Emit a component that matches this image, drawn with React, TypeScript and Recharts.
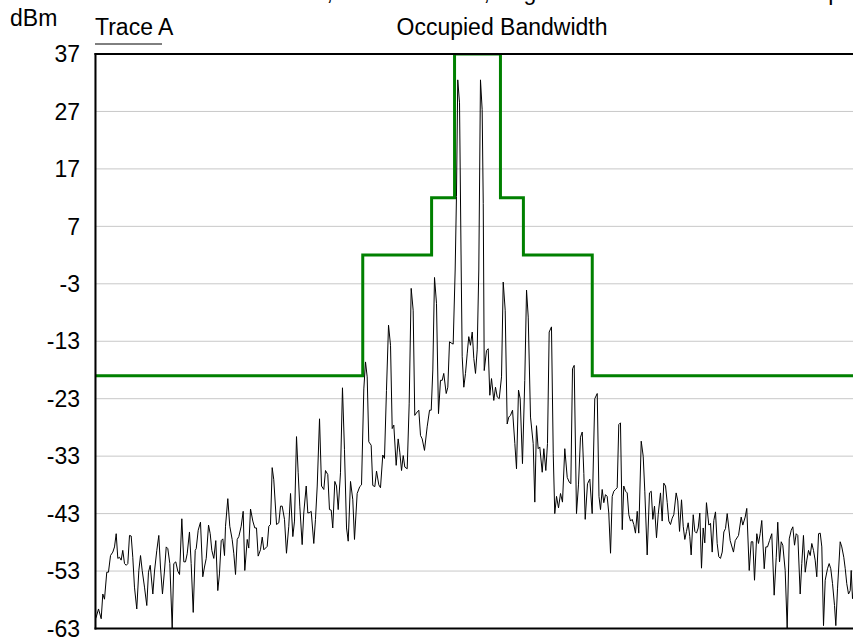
import React from 'react';
import { LineChart, Line, XAxis, YAxis, CartesianGrid } from 'recharts';

// Frequency offset (MHz) from centre, level (dBm)
const levelTicks = [-63, -53, -43, -33, -23, -13, -3, 7, 17, 27, 37];
const freqTicks = [-5, -4, -3, -2, -1, 0, 1, 2, 3, 4, 5];

// Spectrum emission mask (step after each edge)
const maskEdges = [-5, -1.5, -0.6, -0.3, 0.3, 0.6, 1.5, 5];
const maskLevels = [-19, 2, 12, 37, 12, 2, -19, -19];

// Trace A: [offset MHz, dBm]
const lowerFarSkirt: [number, number][] = [
  [-5.0, -61.5], [-4.984, -61], [-4.954, -59.6], [-4.919, -61.3], [-4.898, -57], [-4.876, -57.9],
  [-4.846, -53.2], [-4.824, -53.2], [-4.797, -50.3], [-4.767, -49.7], [-4.745, -48.8], [-4.723, -46.5],
  [-4.702, -50.8], [-4.68, -50.6], [-4.658, -51.1], [-4.637, -49.4], [-4.614, -51.7], [-4.592, -52],
  [-4.571, -51.7], [-4.549, -46.8], [-4.527, -46.9], [-4.506, -50.6], [-4.484, -55.8], [-4.454, -59.6],
  [-4.427, -52.9], [-4.405, -50.3], [-4.383, -52.9], [-4.353, -55.8], [-4.323, -59], [-4.301, -53.2],
  [-4.278, -52], [-4.244, -57], [-4.222, -53], [-4.192, -49.4], [-4.166, -46.8], [-4.144, -52.3],
  [-4.118, -57], [-4.092, -53], [-4.069, -48.8], [-4.048, -49.1], [-4.022, -51.7], [-3.991, -63],
  [-3.97, -51.7], [-3.944, -51.4], [-3.918, -53], [-3.895, -53.6], [-3.865, -43.9], [-3.839, -51.4],
  [-3.817, -51.4], [-3.795, -50], [-3.765, -46.2], [-3.743, -51.7], [-3.716, -60.2], [-3.69, -49.4],
  [-3.677, -49.1], [-3.651, -45.9], [-3.621, -44.5], [-3.591, -54], [-3.569, -52.3], [-3.546, -50.8],
  [-3.516, -45], [-3.494, -46.5], [-3.473, -49.4], [-3.447, -50.8], [-3.421, -47.7], [-3.395, -56.4],
  [-3.373, -53.5], [-3.35, -47.7], [-3.329, -47.4], [-3.307, -50.3],
];

const lowerShoulder: [number, number][] = [
  [-3.294, -45.2], [-3.264, -40.4], [-3.238, -45.2], [-3.207, -47.5], [-3.186, -49.9], [-3.163, -53.6],
  [-3.141, -47.5], [-3.12, -47], [-3.089, -45.2], [-3.063, -42.6], [-3.042, -52.9], [-3.01, -47.5],
  [-2.99, -49], [-2.967, -42.2], [-2.937, -44.3], [-2.911, -45.5], [-2.889, -45.5], [-2.867, -50.4],
  [-2.837, -49.3], [-2.814, -47.1], [-2.793, -49.3], [-2.771, -49], [-2.749, -48.7], [-2.728, -45.2],
  [-2.706, -44.9], [-2.684, -35], [-2.663, -37.1], [-2.627, -44.9], [-2.597, -44.6], [-2.575, -41.7],
  [-2.553, -41.7], [-2.523, -44], [-2.497, -49.9], [-2.467, -45.2], [-2.444, -39.5], [-2.414, -47],
  [-2.392, -44.3], [-2.366, -29.6], [-2.344, -35.9], [-2.323, -41.7], [-2.292, -48.4], [-2.271, -42.9],
  [-2.239, -38.2], [-2.218, -42.9], [-2.192, -42.8], [-2.174, -42.6], [-2.14, -48.2], [-2.118, -44],
  [-2.095, -38.2], [-2.065, -26.5], [-2.039, -38.2], [-2.009, -38.8], [-1.987, -35.5], [-1.957, -36.2],
  [-1.935, -42.3], [-1.912, -42.4], [-1.892, -45.5], [-1.865, -37.4], [-1.843, -38.2], [-1.821, -42.3],
  [-1.791, -35.9], [-1.765, -21.1], [-1.739, -31.8], [-1.712, -45.5], [-1.69, -47.8], [-1.66, -37.4],
  [-1.63, -40.6], [-1.608, -47.5],
];

const lowerCore: [number, number][] = [
  [-1.573, -39.5], [-1.539, -38.3], [-1.516, -38], [-1.486, -21.3], [-1.464, -16.6], [-1.442, -19.2],
  [-1.421, -30.5], [-1.39, -31.1], [-1.369, -38.1], [-1.342, -38.3], [-1.32, -35.6], [-1.29, -38],
  [-1.268, -38.5], [-1.238, -32.8], [-1.216, -33.4], [-1.19, -21.6], [-1.163, -10.2], [-1.137, -13.7],
  [-1.115, -28.2], [-1.094, -27.6], [-1.063, -34.6], [-1.037, -30], [-1.016, -32.3], [-0.993, -35.5],
  [-0.971, -32.9], [-0.95, -34.9], [-0.919, -35.2], [-0.893, -23.9], [-0.867, -3.8], [-0.841, -7.6],
  [-0.82, -25.9], [-0.788, -25.3], [-0.767, -25], [-0.745, -29.4], [-0.723, -30], [-0.693, -32],
  [-0.658, -27.9], [-0.627, -25], [-0.605, -25], [-0.584, -18], [-0.562, -1.9], [-0.536, -6.4],
  [-0.51, -25.6], [-0.484, -19.8], [-0.461, -19.8], [-0.441, -18.6], [-0.409, -22.1], [-0.388, -21],
  [-0.366, -13.1], [-0.344, -13.3], [-0.318, -13.5], [-0.292, -0.6], [-0.275, 12.2], [-0.258, 32.5],
  [-0.235, 28.5], [-0.213, -0.6], [-0.2, -15.7], [-0.179, -21], [-0.157, -18.6], [-0.135, -15.2],
  [-0.114, -12.2], [-0.092, -13.7], [-0.069, -11.4], [-0.048, -16], [-0.026, -18.6], [-0.004, -14.5],
];

const upperCore: [number, number][] = [
  [0.017, -0.6], [0.039, 32.5], [0.061, 27.3], [0.075, 11], [0.088, -18.1], [0.118, -14.6],
  [0.14, -14.3], [0.161, -22.4], [0.183, -19.5], [0.213, -23.3], [0.235, -21], [0.258, -22.7],
  [0.284, -23], [0.314, -19.2], [0.336, -2.7], [0.362, -7.6], [0.388, -27.4], [0.409, -26.2],
  [0.431, -25.9], [0.458, -25], [0.488, -30.8], [0.51, -35.2], [0.536, -21.5], [0.558, -23],
  [0.588, -34.3], [0.618, -19.8], [0.641, -4.1], [0.663, -8.8], [0.693, -26.2], [0.728, -30.8],
  [0.749, -41], [0.771, -27.7], [0.793, -31.7], [0.814, -31.4], [0.846, -35.8], [0.867, -31.7],
  [0.893, -35.5], [0.915, -30.8], [0.937, -11.4], [0.967, -10.5], [0.99, -32.6], [1.01, -43],
  [1.033, -40], [1.059, -42], [1.085, -39.5], [1.111, -41], [1.141, -31.7], [1.173, -36.7],
  [1.199, -37.5], [1.22, -37.8], [1.242, -17.8], [1.264, -17.2], [1.294, -43], [1.32, -38],
  [1.346, -29.7], [1.369, -28.8], [1.39, -36], [1.408, -44], [1.438, -37.8], [1.468, -37],
  [1.499, -43], [1.533, -23], [1.565, -22.1], [1.588, -40], [1.608, -42.3],
];

const upperShoulder: [number, number][] = [
  [1.63, -38.8], [1.651, -41.1], [1.673, -39.7], [1.695, -40], [1.716, -42.9], [1.739, -49.9],
  [1.761, -40], [1.782, -39.1], [1.804, -38.8], [1.826, -38.5], [1.847, -27.5], [1.869, -27.2],
  [1.892, -45.8], [1.912, -38.2], [1.935, -39.1], [1.957, -39.4], [1.978, -43.2], [2.0, -44.3],
  [2.022, -44], [2.043, -44.9], [2.065, -46.4], [2.088, -42.6], [2.108, -46.4], [2.14, -30.4],
  [2.166, -33], [2.187, -39.1], [2.218, -50.2], [2.248, -39.4], [2.271, -39.1], [2.292, -44],
  [2.314, -41.7], [2.34, -47.2], [2.362, -43.2], [2.392, -39.4], [2.414, -44.3], [2.435, -37.7],
  [2.458, -38.2], [2.48, -41.1], [2.501, -44.3], [2.523, -44.9], [2.545, -43.8], [2.566, -43.2],
  [2.597, -39.4], [2.618, -40.8], [2.641, -46.1], [2.667, -40.6], [2.689, -45.2], [2.71, -47.5],
  [2.732, -46.1], [2.754, -44.6], [2.775, -47], [2.793, -50.2], [2.82, -43.2], [2.841, -46.1],
  [2.863, -46.4], [2.885, -45.5], [2.906, -42.9], [2.928, -52.5], [2.95, -45.5], [2.971, -48.1],
  [2.993, -41.1], [3.024, -45], [3.046, -44.7], [3.068, -49.7], [3.089, -44.2], [3.111, -42.7],
  [3.133, -48.2], [3.154, -50.5], [3.176, -50.8], [3.199, -49.7], [3.22, -46.2], [3.242, -45.6],
  [3.264, -43],
];

const upperFarSkirt: [number, number][] = [
  [3.303, -47.7], [3.346, -49.7], [3.369, -47.7], [3.412, -46.8], [3.447, -43.6], [3.468, -45],
  [3.499, -43.6], [3.52, -42.1], [3.552, -52.9], [3.578, -47.9], [3.599, -47.9], [3.621, -54.6],
  [3.651, -46.5], [3.673, -48.2], [3.695, -46.5], [3.716, -44.2], [3.748, -52.6], [3.769, -48.8],
  [3.791, -48.8], [3.817, -47.7], [3.847, -46.5], [3.878, -57.2], [3.905, -50.6], [3.925, -44.5],
  [3.948, -51.4], [3.97, -47.9], [3.991, -48.5], [4.022, -52.9], [4.048, -63], [4.075, -47.4],
  [4.101, -45.9], [4.122, -45.3], [4.144, -48.5], [4.166, -46.5], [4.187, -46.8], [4.218, -57],
  [4.239, -51.7], [4.261, -46.8], [4.284, -53.2], [4.305, -51.1], [4.327, -49.4], [4.349, -50.3],
  [4.37, -48.2], [4.392, -49.4], [4.414, -51.1], [4.435, -54], [4.458, -46.5], [4.48, -46.4],
  [4.501, -48.8], [4.523, -62.5], [4.545, -54.6], [4.575, -52.6], [4.597, -51.7], [4.618, -52.6],
  [4.641, -55.2], [4.667, -59], [4.684, -62.5], [4.706, -56.1], [4.741, -47.9], [4.762, -48.8],
  [4.788, -50.6], [4.807, -52.6], [4.827, -55.2], [4.85, -57], [4.872, -56.4], [4.885, -52.9],
  [4.902, -57.8], [4.93, -55], [4.96, -52], [5.0, -54],
];

const FONT = "'Liberation Sans', Arial, Helvetica, sans-serif";

export default function App() {
  const traceData = [
    ...lowerFarSkirt,
    ...lowerShoulder,
    ...lowerCore,
    ...upperCore,
    ...upperShoulder,
    ...upperFarSkirt,
  ].map(([f, dbm]) => ({ f, dbm }));
  const maskData = maskEdges.map((f, i) => ({ f, mask: maskLevels[i] }));

  return (
    <div
      style={{
        position: 'fixed',
        left: 0,
        top: 0,
        width: 853,
        height: 641,
        overflow: 'hidden',
        background: '#ffffff',
      }}
    >
      <LineChart width={870} height={641} margin={{ top: 54, right: 10, bottom: 12.5, left: 0 }}>
        <CartesianGrid stroke="#c8c8c8" strokeWidth={1} />
        <XAxis
          type="number"
          dataKey="f"
          domain={[-5, 5]}
          ticks={freqTicks}
          height={0}
          tick={false}
          axisLine={false}
          tickLine={false}
          allowDataOverflow
        />
        <YAxis
          type="number"
          domain={[-63, 37]}
          ticks={levelTicks}
          interval={0}
          width={95}
          axisLine={false}
          tickLine={false}
          tickSize={6}
          tickMargin={9}
          allowDataOverflow
          tick={{ fontSize: 23, fill: '#000000', fontFamily: FONT }}
        />
        <Line
          data={maskData}
          dataKey="mask"
          type="stepAfter"
          stroke="#008000"
          strokeWidth={3}
          dot={false}
          isAnimationActive={false}
        />
        <Line
          data={traceData}
          dataKey="dbm"
          type="linear"
          stroke="#000000"
          strokeWidth={1}
          dot={false}
          isAnimationActive={false}
        />
      </LineChart>
      <svg
        width={853}
        height={641}
        style={{ position: 'absolute', left: 0, top: 0, pointerEvents: 'none' }}
      >
        <line x1={94.5} y1={54} x2={853} y2={54} stroke="#000" strokeWidth={2} />
        <line x1={95.5} y1={53} x2={95.5} y2={629.5} stroke="#000" strokeWidth={2} />
        <line x1={94.5} y1={628.5} x2={853} y2={628.5} stroke="#000" strokeWidth={2} />
        <g fontFamily={FONT} fontSize={23} fill="#000">
          <text x={333} y={0} textAnchor="end">Ref Level 37.00 dBm,</text>
          <text x={490} y={0} textAnchor="end">Atten 10 dB,</text>
          <text x={497} y={0}>Avg 10/10</text>
          <text x={841} y={0} textAnchor="end">Sweep</text>
          <text x={10} y={26}>dBm</text>
          <text x={95} y={35}>Trace A</text>
          <text x={502} y={35} textAnchor="middle">Occupied Bandwidth</text>
        </g>
        <line x1={95} y1={44} x2={162} y2={44} stroke="#000" strokeWidth={1} />
      </svg>
    </div>
  );
}
